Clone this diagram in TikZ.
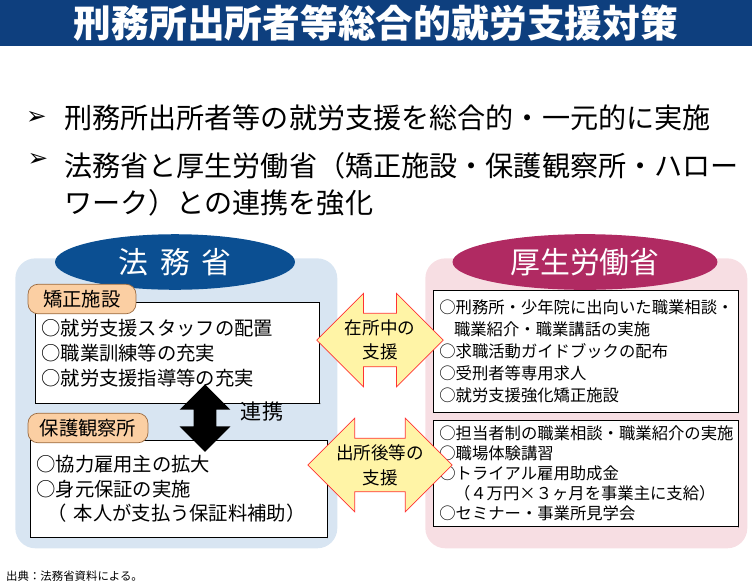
\documentclass[tikz,border=0pt]{standalone}
\usepackage{fontspec}
\setmainfont{Noto Sans CJK JP}
\newfontfamily\symfont{DejaVu Sans}
\usetikzlibrary{shapes.geometric, shapes.arrows, positioning, calc}
\definecolor{titleblue}{HTML}{0E3F7E}
\definecolor{mojblue}{HTML}{0B4F92}
\definecolor{mojpanel}{HTML}{D8E5F2}
\definecolor{mhlwred}{HTML}{B02A62}
\definecolor{mhlwpanel}{HTML}{F7DEE3}
\definecolor{tagfill}{HTML}{FBCFA3}
\definecolor{tagdraw}{HTML}{9A6A40}
\definecolor{supfill}{HTML}{FFF4A6}

\begin{document}
\begin{tikzpicture}[
    x=0.02cm, y=-0.02cm,
    panel/.style={rectangle, rounded corners=0.4cm, minimum width=6.44cm, minimum height=5.8cm},
    minister/.style={ellipse, text=white, minimum height=1.0cm, font=\fontsize{17}{17}\selectfont},
    itembox/.style={rectangle, draw=black, fill=white, align=left, anchor=north west, inner xsep=0.12cm},
    tag/.style={rectangle, rounded corners=0.2cm, draw=tagdraw, fill=tagfill, minimum height=0.52cm, font=\fontsize{11}{11}\selectfont},
    support/.style={double arrow, double arrow head extend=0.4cm, draw=red!80, fill=supfill, minimum height=2.3cm, inner xsep=0.02cm, inner ysep=0.12cm, align=center, font=\fontsize{10}{14}\selectfont},
    bullet/.style={anchor=west, align=left, font=\fontsize{16}{21}\selectfont}
]

\useasboundingbox (0,0) rectangle (752,583);

% Title
\fill[titleblue] (0,0) rectangle (752,46);
\node[text=white, font=\bfseries\fontsize{21.5}{22}\selectfont] (title) at (376,23) {刑務所出所者等総合的就労支援対策};

% Bullets
\node[bullet] (pt1) at (58,118) {刑務所出所者等の就労支援を総合的・一元的に実施};
\node[bullet, anchor=north west] (pt2) at (58,146) {法務省と厚生労働省（矯正施設・保護観察所・ハロー\\ワーク）との連携を強化};
\node[font=\symfont\fontsize{14}{14}\selectfont, left=0.1cm of pt1] {➢};
\node[font=\symfont\fontsize{14}{14}\selectfont] at (38,160) {➢};

% Panels
\node[panel, fill=mojpanel, anchor=north west] (moj) at (15,258) {};
\node[panel, fill=mhlwpanel, anchor=north west] (mhlw) at (425,258) {};
\node[minister, fill=mojblue, minimum width=4.8cm] (mojname) at (175,262) {法\hspace{0.4em}務\hspace{0.4em}省};
\node[minister, fill=mhlwred, minimum width=5.3cm] (mhlwname) at (585,262) {厚生労働省};

% Left boxes
\node[itembox, text width=5.45cm, minimum height=2.02cm, font=\fontsize{11}{14.2}\selectfont] (kyosei) at (35,302)
  {○就労支援スタッフの配置\\○職業訓練等の充実\\○就労支援指導等の充実};
\node[itembox, text width=5.7cm, minimum height=1.94cm, font=\fontsize{11}{14.2}\selectfont] (hogo) at (30,440)
  {○協力雇用主の拡大\\○身元保証の実施\\\hspace{0.6em}（ 本人が支払う保証料補助）};
\node[tag, minimum width=2.16cm] (kyoseitag) at (82,299) {矯正施設};
\node[tag, minimum width=2.4cm] (hogotag) at (88,428) {保護観察所};

% Right boxes
\node[itembox, text width=5.86cm, minimum height=2.44cm, font=\fontsize{9.3}{12.5}\selectfont] (shokugyo) at (433,290)
  {○刑務所・少年院に出向いた職業相談・\\\hspace{0.9em}職業紹介・職業講話の実施\\○求職活動ガイドブックの配布\\○受刑者等専用求人\\○就労支援強化矯正施設};
\node[itembox, text width=5.86cm, minimum height=2.0cm, font=\fontsize{9.3}{11.3}\selectfont] (koyo) at (433,420)
  {○担当者制の職業相談・職業紹介の実施\\○職場体験講習\\○トライアル雇用助成金\\\hspace{0.9em}（４万円×３ヶ月を事業主に支給）\\○セミナー・事業所見学会};

% Folded corners
\foreach \b in {kyosei, hogo, shokugyo, koyo}
  \filldraw[fill=gray!30] ($(\b.south east)+(-0.2,0)$) -- ($(\b.south east)+(0,0.2)$) -- ($(\b.south east)+(-0.12,0.12)$) -- cycle;

% Cooperation
\node[double arrow, rotate=90, fill=black, minimum height=1.35cm, inner sep=0.22cm, double arrow head extend=0.28cm] (renkei) at (205,418) {};
\node[font=\fontsize{12}{12}\selectfont] (renkeitext) at (262,412) {連携};

% Support arrows
\node[support] (zaisho) at (380,340) {在所中の\\支援};
\node[support] (shussho) at (380,465) {出所後等の\\支援};

% Source
\node[anchor=west, font=\fontsize{6.5}{6.5}\selectfont] (source) at (0,576) {出典：法務省資料による。};

\end{tikzpicture}
\end{document}
